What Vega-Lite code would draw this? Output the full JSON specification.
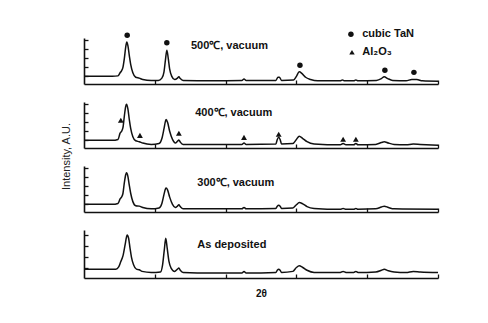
{
  "$schema": "https://vega.github.io/schema/vega-lite/v6.json",
  "background": "white",
  "padding": {"left": 60, "top": 28, "right": 5, "bottom": 5},
  "spacing": 18,
  "bounds": "flush",
  "config": {
    "font": "Liberation Sans",
    "view": {"stroke": null},
    "axis": {"grid": false, "labels": false, "domainColor": "#111", "domainWidth": 1.6, "tickColor": "#111", "tickWidth": 1.3, "tickSize": -4, "title": null}
  },
  "datasets": {
    "curves": [
      {"s":"500","t":30,"i":0},{"s":"500","t":32,"i":0},{"s":"500","t":34,"i":0},{"s":"500","t":34.8,"i":0.05},{"s":"500","t":35.1,"i":0.4},{"s":"500","t":35.3,"i":0.6},{"s":"500","t":35.5,"i":1.0},{"s":"500","t":35.7,"i":2.0},{"s":"500","t":35.9,"i":3.3},{"s":"500","t":36.05,"i":3.8},{"s":"500","t":36.2,"i":3.4},{"s":"500","t":36.4,"i":2.3},{"s":"500","t":36.6,"i":1.3},{"s":"500","t":36.9,"i":0.4},{"s":"500","t":37.3,"i":-0.1},{"s":"500","t":37.8,"i":-0.2},{"s":"500","t":38.3,"i":-0.35},{"s":"500","t":39.5,"i":-0.45},{"s":"500","t":40.5,"i":-0.45},{"s":"500","t":41.0,"i":-0.2},{"s":"500","t":41.3,"i":0.5},{"s":"500","t":41.5,"i":1.8},{"s":"500","t":41.7,"i":2.9},{"s":"500","t":41.9,"i":2.0},{"s":"500","t":42.1,"i":0.8},{"s":"500","t":42.4,"i":0.0},{"s":"500","t":42.8,"i":-0.35},{"s":"500","t":43.2,"i":-0.2},{"s":"500","t":43.4,"i":-0.05},{"s":"500","t":43.6,"i":-0.25},{"s":"500","t":44.0,"i":-0.45},{"s":"500","t":48,"i":-0.5},{"s":"500","t":52.3,"i":-0.45},{"s":"500","t":52.6,"i":-0.3},{"s":"500","t":52.9,"i":-0.45},{"s":"500","t":57.1,"i":-0.45},{"s":"500","t":57.4,"i":-0.1},{"s":"500","t":57.6,"i":-0.1},{"s":"500","t":57.9,"i":-0.45},{"s":"500","t":59.6,"i":-0.4},{"s":"500","t":60.0,"i":0.0},{"s":"500","t":60.4,"i":0.5},{"s":"500","t":60.8,"i":0.3},{"s":"500","t":61.3,"i":-0.1},{"s":"500","t":62.0,"i":-0.35},{"s":"500","t":63,"i":-0.5},{"s":"500","t":66.2,"i":-0.5},{"s":"500","t":66.5,"i":-0.4},{"s":"500","t":66.8,"i":-0.5},{"s":"500","t":68.1,"i":-0.5},{"s":"500","t":68.4,"i":-0.4},{"s":"500","t":68.7,"i":-0.5},{"s":"500","t":71.3,"i":-0.45},{"s":"500","t":72.0,"i":-0.25},{"s":"500","t":72.4,"i":-0.05},{"s":"500","t":72.9,"i":-0.25},{"s":"500","t":73.6,"i":-0.45},{"s":"500","t":75.5,"i":-0.5},{"s":"500","t":76.3,"i":-0.35},{"s":"500","t":77.0,"i":-0.35},{"s":"500","t":77.8,"i":-0.5},{"s":"500","t":80,"i":-0.55},
      {"s":"400","t":30,"i":0},{"s":"400","t":34,"i":0},{"s":"400","t":34.8,"i":0.1},{"s":"400","t":35.1,"i":0.8},{"s":"400","t":35.3,"i":1.0},{"s":"400","t":35.5,"i":1.4},{"s":"400","t":35.7,"i":2.7},{"s":"400","t":35.9,"i":3.8},{"s":"400","t":36.0,"i":4.0},{"s":"400","t":36.2,"i":3.5},{"s":"400","t":36.4,"i":2.3},{"s":"400","t":36.6,"i":1.3},{"s":"400","t":36.9,"i":0.4},{"s":"400","t":37.3,"i":-0.05},{"s":"400","t":37.8,"i":-0.15},{"s":"400","t":38.3,"i":-0.3},{"s":"400","t":39.5,"i":-0.45},{"s":"400","t":40.6,"i":-0.35},{"s":"400","t":41.0,"i":0.2},{"s":"400","t":41.3,"i":1.3},{"s":"400","t":41.5,"i":2.1},{"s":"400","t":41.6,"i":2.3},{"s":"400","t":41.8,"i":2.0},{"s":"400","t":42.1,"i":1.0},{"s":"400","t":42.5,"i":0.1},{"s":"400","t":42.9,"i":-0.3},{"s":"400","t":43.2,"i":-0.1},{"s":"400","t":43.4,"i":0.05},{"s":"400","t":43.6,"i":-0.2},{"s":"400","t":44.0,"i":-0.45},{"s":"400","t":48,"i":-0.45},{"s":"400","t":52.3,"i":-0.45},{"s":"400","t":52.6,"i":-0.3},{"s":"400","t":52.9,"i":-0.45},{"s":"400","t":57.1,"i":-0.4},{"s":"400","t":57.3,"i":0.1},{"s":"400","t":57.5,"i":0.33},{"s":"400","t":57.7,"i":0.1},{"s":"400","t":57.9,"i":-0.4},{"s":"400","t":59.5,"i":-0.35},{"s":"400","t":60.0,"i":0.1},{"s":"400","t":60.4,"i":0.45},{"s":"400","t":60.9,"i":0.2},{"s":"400","t":61.5,"i":-0.15},{"s":"400","t":62.5,"i":-0.4},{"s":"400","t":66.2,"i":-0.5},{"s":"400","t":66.6,"i":-0.35},{"s":"400","t":67.0,"i":-0.5},{"s":"400","t":68.1,"i":-0.5},{"s":"400","t":68.4,"i":-0.35},{"s":"400","t":68.7,"i":-0.5},{"s":"400","t":71.2,"i":-0.45},{"s":"400","t":72.0,"i":-0.25},{"s":"400","t":72.4,"i":-0.15},{"s":"400","t":73.0,"i":-0.3},{"s":"400","t":73.8,"i":-0.45},{"s":"400","t":75.5,"i":-0.5},{"s":"400","t":76.5,"i":-0.4},{"s":"400","t":77.5,"i":-0.45},{"s":"400","t":80,"i":-0.55},
      {"s":"300","t":30,"i":0},{"s":"300","t":34,"i":0},{"s":"300","t":34.8,"i":0.1},{"s":"300","t":35.1,"i":0.6},{"s":"300","t":35.3,"i":0.8},{"s":"300","t":35.5,"i":1.2},{"s":"300","t":35.7,"i":2.4},{"s":"300","t":35.9,"i":3.3},{"s":"300","t":36.0,"i":3.5},{"s":"300","t":36.2,"i":3.1},{"s":"300","t":36.4,"i":2.1},{"s":"300","t":36.6,"i":1.2},{"s":"300","t":36.9,"i":0.3},{"s":"300","t":37.3,"i":-0.15},{"s":"300","t":37.8,"i":-0.2},{"s":"300","t":38.3,"i":-0.35},{"s":"300","t":39.5,"i":-0.5},{"s":"300","t":40.6,"i":-0.4},{"s":"300","t":41.0,"i":0.1},{"s":"300","t":41.3,"i":1.1},{"s":"300","t":41.5,"i":1.7},{"s":"300","t":41.6,"i":1.8},{"s":"300","t":41.8,"i":1.6},{"s":"300","t":42.1,"i":0.8},{"s":"300","t":42.5,"i":0.0},{"s":"300","t":42.9,"i":-0.35},{"s":"300","t":43.2,"i":-0.2},{"s":"300","t":43.4,"i":-0.05},{"s":"300","t":43.6,"i":-0.25},{"s":"300","t":44.0,"i":-0.5},{"s":"300","t":48,"i":-0.5},{"s":"300","t":52.3,"i":-0.5},{"s":"300","t":52.6,"i":-0.35},{"s":"300","t":52.9,"i":-0.5},{"s":"300","t":57.1,"i":-0.45},{"s":"300","t":57.3,"i":-0.2},{"s":"300","t":57.5,"i":-0.1},{"s":"300","t":57.7,"i":-0.2},{"s":"300","t":57.9,"i":-0.45},{"s":"300","t":59.5,"i":-0.4},{"s":"300","t":60.0,"i":-0.05},{"s":"300","t":60.4,"i":0.2},{"s":"300","t":60.9,"i":0.05},{"s":"300","t":61.5,"i":-0.25},{"s":"300","t":62.5,"i":-0.45},{"s":"300","t":66.2,"i":-0.55},{"s":"300","t":66.6,"i":-0.45},{"s":"300","t":67.0,"i":-0.55},{"s":"300","t":68.1,"i":-0.55},{"s":"300","t":68.4,"i":-0.45},{"s":"300","t":68.7,"i":-0.55},{"s":"300","t":71.2,"i":-0.5},{"s":"300","t":72.0,"i":-0.3},{"s":"300","t":72.4,"i":-0.2},{"s":"300","t":73.0,"i":-0.35},{"s":"300","t":73.8,"i":-0.5},{"s":"300","t":80,"i":-0.55},
      {"s":"as","t":30,"i":-0.1},{"s":"as","t":34.5,"i":-0.1},{"s":"as","t":34.9,"i":0.1},{"s":"as","t":35.2,"i":0.6},{"s":"as","t":35.5,"i":1.1},{"s":"as","t":35.8,"i":2.1},{"s":"as","t":36.0,"i":2.8},{"s":"as","t":36.1,"i":3.0},{"s":"as","t":36.3,"i":2.7},{"s":"as","t":36.5,"i":1.8},{"s":"as","t":36.7,"i":1.0},{"s":"as","t":37.0,"i":0.3},{"s":"as","t":37.4,"i":-0.1},{"s":"as","t":37.8,"i":-0.15},{"s":"as","t":38.2,"i":-0.3},{"s":"as","t":39.5,"i":-0.4},{"s":"as","t":40.8,"i":-0.35},{"s":"as","t":41.1,"i":0.3},{"s":"as","t":41.35,"i":1.7},{"s":"as","t":41.55,"i":2.7},{"s":"as","t":41.75,"i":1.8},{"s":"as","t":42.0,"i":0.6},{"s":"as","t":42.3,"i":0.0},{"s":"as","t":42.8,"i":-0.3},{"s":"as","t":43.2,"i":-0.1},{"s":"as","t":43.4,"i":0.0},{"s":"as","t":43.6,"i":-0.2},{"s":"as","t":44.0,"i":-0.4},{"s":"as","t":48,"i":-0.45},{"s":"as","t":52.3,"i":-0.45},{"s":"as","t":52.6,"i":-0.3},{"s":"as","t":52.9,"i":-0.45},{"s":"as","t":57.1,"i":-0.4},{"s":"as","t":57.3,"i":-0.2},{"s":"as","t":57.5,"i":-0.1},{"s":"as","t":57.7,"i":-0.2},{"s":"as","t":57.9,"i":-0.4},{"s":"as","t":59.5,"i":-0.3},{"s":"as","t":60.0,"i":0.05},{"s":"as","t":60.4,"i":0.2},{"s":"as","t":60.9,"i":0.05},{"s":"as","t":61.5,"i":-0.2},{"s":"as","t":62.5,"i":-0.4},{"s":"as","t":66.2,"i":-0.4},{"s":"as","t":66.6,"i":-0.3},{"s":"as","t":67.0,"i":-0.4},{"s":"as","t":68.1,"i":-0.4},{"s":"as","t":68.4,"i":-0.3},{"s":"as","t":68.7,"i":-0.4},{"s":"as","t":71.2,"i":-0.35},{"s":"as","t":72.0,"i":-0.2},{"s":"as","t":72.4,"i":-0.1},{"s":"as","t":73.0,"i":-0.25},{"s":"as","t":73.8,"i":-0.35},{"s":"as","t":75.5,"i":-0.4},{"s":"as","t":76.5,"i":-0.3},{"s":"as","t":77.5,"i":-0.35},{"s":"as","t":80,"i":-0.4}
    ],
    "marks": [
      {"s":"500","m":"TaN","t":36.1,"i":4.56},{"s":"500","m":"TaN","t":41.7,"i":3.72},{"s":"500","m":"TaN","t":60.5,"i":1.22},{"s":"500","m":"TaN","t":72.5,"i":0.67},{"s":"500","m":"TaN","t":76.6,"i":0.44},
      {"s":"500","m":"TaN","t":67.7,"i":4.67},{"s":"500","m":"Al2O3","t":67.85,"i":2.67},
      {"s":"400","m":"Al2O3","t":35.2,"i":2.22},{"s":"400","m":"Al2O3","t":37.9,"i":0.55},{"s":"400","m":"Al2O3","t":43.4,"i":0.78},{"s":"400","m":"Al2O3","t":52.6,"i":0.33},{"s":"400","m":"Al2O3","t":57.5,"i":0.67},{"s":"400","m":"Al2O3","t":66.6,"i":0.11},{"s":"400","m":"Al2O3","t":68.4,"i":0.11}
    ],
    "labels": [
      {"s":"500","t":45.1,"i":3.33,"txt":"500℃, vacuum"},
      {"s":"500","t":69.3,"i":4.67,"txt":"cubic TaN"},
      {"s":"500","t":69.3,"i":2.67,"txt":"Al₂O₃"},
      {"s":"400","t":45.7,"i":3.0,"txt":"400℃, vacuum"},
      {"s":"300","t":46.0,"i":2.33,"txt":"300℃, vacuum"},
      {"s":"as","t":46.0,"i":2.09,"txt":"As deposited"}
    ]
  },
  "vconcat": [
    {
      "width": 354, "height": 46,
      "encoding": {
        "x": {"field": "t", "type": "quantitative", "scale": {"domain": [30, 80], "nice": false}, "axis": {"values": [40, 50, 60, 70, 80]}},
        "y": {"field": "i", "type": "quantitative", "scale": {"domain": [-0.85, 4.25], "nice": false, "zero": false}, "axis": {"values": [0, 1, 2, 3, 4]}}
      },
      "layer": [
        {"data": {"name": "curves"}, "transform": [{"filter": "datum.s == '500'"}], "mark": {"type": "line", "color": "#111", "strokeWidth": 1.5, "interpolate": "monotone"}},
        {"data": {"name": "marks"}, "transform": [{"filter": "datum.s == '500'"}], "mark": {"type": "point", "filled": true, "color": "#111", "opacity": 1, "size": 30},
          "encoding": {"shape": {"field": "m", "type": "nominal", "scale": {"domain": ["TaN", "Al2O3"], "range": ["circle", "triangle-up"]}, "legend": null}}},
        {"data": {"name": "labels"}, "transform": [{"filter": "datum.s == '500'"}], "mark": {"type": "text", "align": "left", "baseline": "middle", "fontWeight": "bold", "fontSize": 11, "color": "#111"},
          "encoding": {"text": {"field": "txt"}}}
      ]
    },
    {
      "width": 354, "height": 46,
      "encoding": {
        "x": {"field": "t", "type": "quantitative", "scale": {"domain": [30, 80], "nice": false}, "axis": {"values": [40, 50, 60, 70, 80]}},
        "y": {"field": "i", "type": "quantitative", "scale": {"domain": [-0.85, 4.25], "nice": false, "zero": false}, "axis": {"values": [0, 1, 2, 3, 4], "title": "Intensity, A.U.", "titleFontSize": 11, "titleFontWeight": "normal", "titleColor": "#222", "titleX": -18, "titleY": 54, "titleAngle": -90, "titleAlign": "center", "titleBaseline": "middle"}}
      },
      "layer": [
        {"data": {"name": "curves"}, "transform": [{"filter": "datum.s == '400'"}], "mark": {"type": "line", "color": "#111", "strokeWidth": 1.5, "interpolate": "monotone"}},
        {"data": {"name": "marks"}, "transform": [{"filter": "datum.s == '400'"}], "mark": {"type": "point", "filled": true, "color": "#111", "opacity": 1, "size": 34},
          "encoding": {"shape": {"field": "m", "type": "nominal", "scale": {"domain": ["TaN", "Al2O3"], "range": ["circle", "triangle-up"]}, "legend": null}}},
        {"data": {"name": "labels"}, "transform": [{"filter": "datum.s == '400'"}], "mark": {"type": "text", "align": "left", "baseline": "middle", "fontWeight": "bold", "fontSize": 11, "color": "#111"},
          "encoding": {"text": {"field": "txt"}}}
      ]
    },
    {
      "width": 354, "height": 46,
      "encoding": {
        "x": {"field": "t", "type": "quantitative", "scale": {"domain": [30, 80], "nice": false}, "axis": {"values": [40, 50, 60, 70, 80]}},
        "y": {"field": "i", "type": "quantitative", "scale": {"domain": [-0.85, 4.25], "nice": false, "zero": false}, "axis": {"values": [0, 1, 2, 3, 4]}}
      },
      "layer": [
        {"data": {"name": "curves"}, "transform": [{"filter": "datum.s == '300'"}], "mark": {"type": "line", "color": "#111", "strokeWidth": 1.5, "interpolate": "monotone"}},
        {"data": {"name": "labels"}, "transform": [{"filter": "datum.s == '300'"}], "mark": {"type": "text", "align": "left", "baseline": "middle", "fontWeight": "bold", "fontSize": 11, "color": "#111"},
          "encoding": {"text": {"field": "txt"}}}
      ]
    },
    {
      "width": 354, "height": 48,
      "encoding": {
        "x": {"field": "t", "type": "quantitative", "scale": {"domain": [30, 80], "nice": false}, "axis": {"values": [40, 50, 60, 70, 80], "title": "2θ", "titleFontSize": 10, "titleFontWeight": "bold", "titleColor": "#111", "titlePadding": 10}},
        "y": {"field": "i", "type": "quantitative", "scale": {"domain": [-0.9, 3.45], "nice": false, "zero": false}, "axis": {"values": [0, 1, 2, 3]}}
      },
      "layer": [
        {"data": {"name": "curves"}, "transform": [{"filter": "datum.s == 'as'"}], "mark": {"type": "line", "color": "#111", "strokeWidth": 1.5, "interpolate": "monotone"}},
        {"data": {"name": "labels"}, "transform": [{"filter": "datum.s == 'as'"}], "mark": {"type": "text", "align": "left", "baseline": "middle", "fontWeight": "bold", "fontSize": 11, "color": "#111"},
          "encoding": {"text": {"field": "txt"}}}
      ]
    }
  ]
}
